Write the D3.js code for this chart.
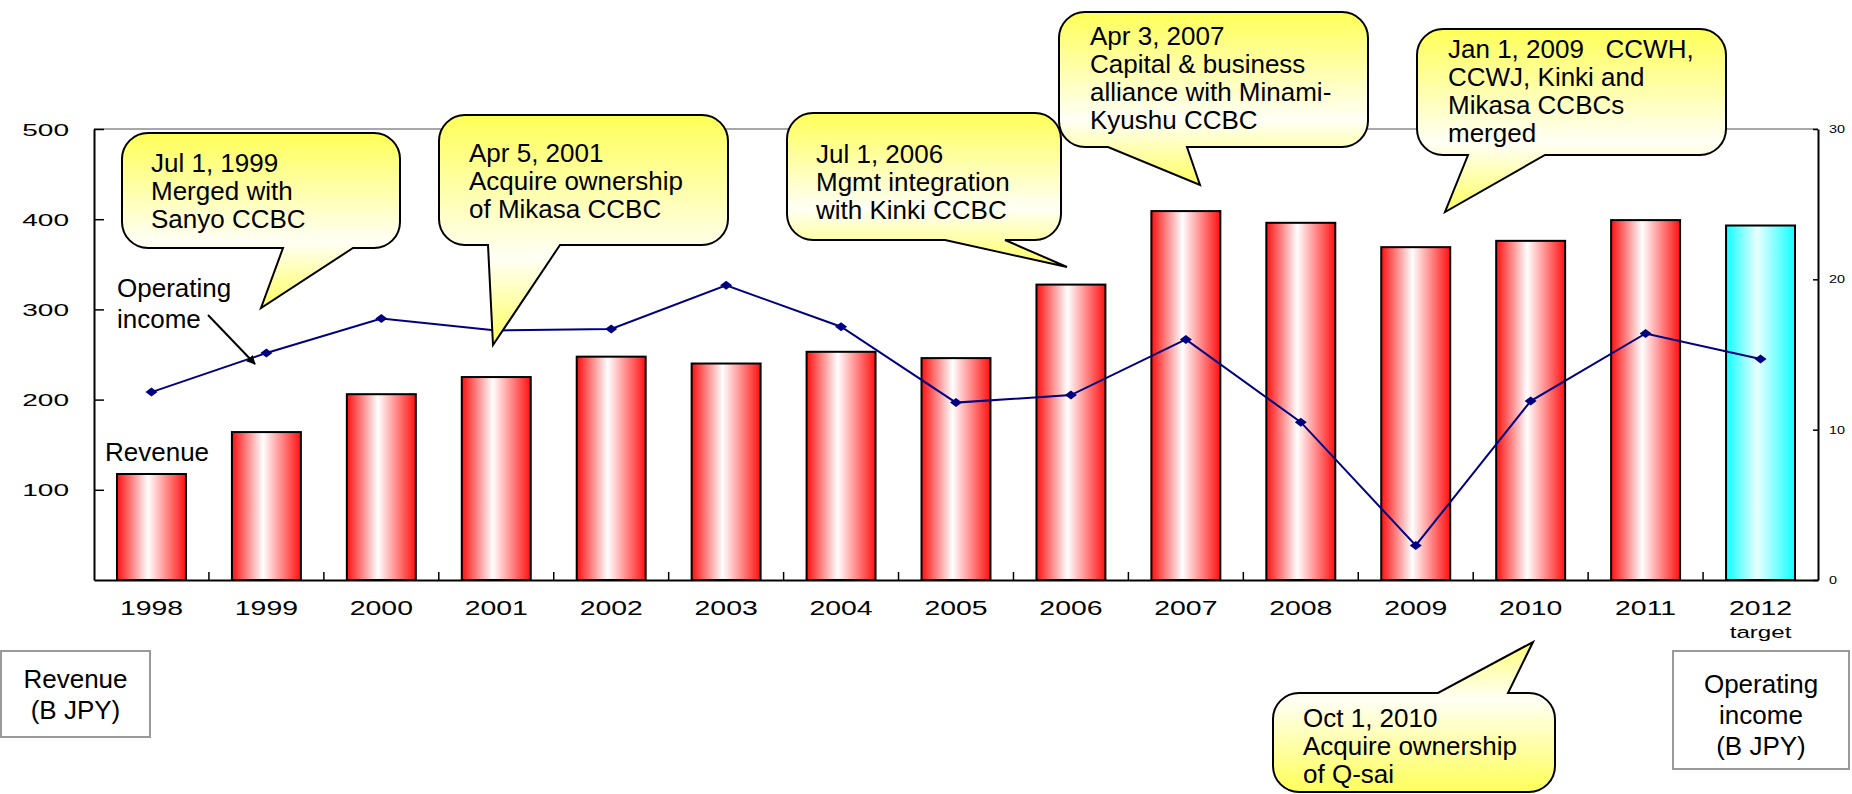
<!DOCTYPE html>
<html>
<head>
<meta charset="utf-8">
<script src="https://cdn.jsdelivr.net/npm/d3@7/dist/d3.min.js"></script>
<style>
  html, body { margin: 0; padding: 0; background: #fff; }
  svg { display: block; font-family: "Liberation Sans", Arial, sans-serif; }
</style>
</head>
<body>
<svg id="chart" width="1852" height="794"></svg>
<script>
'use strict';

// data
let years = ['1998', '1999', '2000', '2001', '2002', '2003', '2004', '2005',
  '2006', '2007', '2008', '2009', '2010', '2011', '2012'];
let revenue = [117.5, 164, 206, 225, 247.6, 240, 253, 246, 327.5, 409, 396, 369, 376, 399, 393];
let opIncome = [12.5, 15.1, 17.4, 16.6, 16.7, 19.6, 16.85, 11.8, 12.3, 16.0, 10.5, 2.3, 11.9, 16.4, 14.7];
let leftTicks = [100, 200, 300, 400, 500];
let rightTicks = [0, 10, 20, 30];
let targetYear = '2012';
let targetNote = 'target';

let calloutTexts = [
  ['Jul 1, 1999', 'Merged with', 'Sanyo CCBC'],
  ['Apr 5, 2001', 'Acquire ownership', 'of Mikasa CCBC'],
  ['Jul 1, 2006', 'Mgmt integration', 'with Kinki CCBC'],
  ['Apr 3, 2007', 'Capital & business', 'alliance with Minami-', 'Kyushu CCBC'],
  ['Jan 1, 2009   CCWH,', 'CCWJ, Kinki and', 'Mikasa CCBCs', 'merged'],
  ['Oct 1, 2010', 'Acquire ownership', 'of Q-sai'],
];
let revenueUnit = ['Revenue', '(B JPY)'];
let incomeUnit = ['Operating', 'income', '(B JPY)'];

// layout
let plotL = 94, plotR = 1818, plotT = 129, plotB = 580;
let calloutLayout = [
  {box: [122, 133, 400, 248], side: 'bottom', base: [283, 353], tip: [261, 308], tx: 151, ty: 172},
  {box: [439, 115, 728, 245], side: 'bottom', base: [488, 560], tip: [493, 345], tx: 469, ty: 162},
  {box: [787, 113, 1061, 240], side: 'bottom', base: [945, 1005], tip: [1067, 267], tx: 816, ty: 163},
  {box: [1059, 12, 1368, 147], side: 'bottom', base: [1108, 1187], tip: [1200, 185], tx: 1090, ty: 45},
  {box: [1417, 29, 1726, 155], side: 'bottom', base: [1468, 1545], tip: [1445, 212], tx: 1448, ty: 58},
  {box: [1273, 693, 1555, 792], side: 'top', base: [1438, 1508], tip: [1533, 642], tx: 1303, ty: 727},
];

let svg = d3.select('#chart');
let defs = svg.append('defs');

let hGrad = (id, edge, mid) => {
  let g = defs.append('linearGradient').attr('id', id)
    .attr('x1', 0).attr('y1', 0).attr('x2', 1).attr('y2', 0);
  g.append('stop').attr('offset', '0%').attr('stop-color', edge);
  g.append('stop').attr('offset', '45%').attr('stop-color', mid);
  g.append('stop').attr('offset', '100%').attr('stop-color', edge);
};
hGrad('redGrad', '#ff1010', '#ffffff');
hGrad('cyanGrad', '#10ffff', '#eaffff');

let vGrad = (id, stops) => {
  let g = defs.append('linearGradient').attr('id', id)
    .attr('x1', 0).attr('y1', 0).attr('x2', 0).attr('y2', 1);
  stops.forEach(s => g.append('stop').attr('offset', s[0]).attr('stop-color', s[1]));
};
vGrad('yelDown', [['0%', '#ffff58'], ['62%', '#fffff6'], ['100%', '#ffff60']]);
vGrad('yelUp', [['0%', '#ffff78'], ['38%', '#fffff6'], ['100%', '#ffff58']]);

defs.append('marker')
  .attr('id', 'arrow')
  .attr('viewBox', '0 0 10 10')
  .attr('refX', 9).attr('refY', 5)
  .attr('markerWidth', 9).attr('markerHeight', 9)
  .attr('markerUnits', 'userSpaceOnUse')
  .attr('orient', 'auto')
  .append('path')
  .attr('d', 'M0,0 L10,5 L0,10 Z')
  .style('fill', 'black');

let x = d3.scaleBand().domain(years).range([plotL, plotR])
  .paddingInner(0.4).paddingOuter(0.2);
let yL = d3.scaleLinear().domain([0, 500]).range([plotB, plotT]);
let yR = d3.scaleLinear().domain([0, 30]).range([plotB, plotT]);

// top frame line
svg.append('line')
  .attr('x1', plotL).attr('x2', plotR).attr('y1', plotT).attr('y2', plotT)
  .style('stroke', '#8a8a8a').style('stroke-width', 1.5);

// bars
svg.append('g').selectAll('rect')
  .data(years)
  .enter().append('rect')
  .attr('x', d => x(d))
  .attr('y', (d, i) => yL(revenue[i]))
  .attr('width', x.bandwidth())
  .attr('height', (d, i) => yL(0) - yL(revenue[i]))
  .style('fill', d => d === targetYear ? 'url(#cyanGrad)' : 'url(#redGrad)')
  .style('stroke', 'black')
  .style('stroke-width', 2);

// axes
let leftAxis = svg.append('g')
  .attr('transform', `translate(${plotL},0)`)
  .call(d3.axisLeft(yL).tickValues(leftTicks).tickSize(-10).tickSizeOuter(0));
leftAxis.selectAll('text')
  .attr('x', 0).attr('dy', '0.36em')
  .attr('transform', 'translate(-25,0) scale(1.65,1)')
  .style('font-size', '17px').style('fill', 'black');

let rightAxis = svg.append('g')
  .attr('transform', `translate(${plotR},0)`)
  .call(d3.axisRight(yR).tickValues(rightTicks).tickSize(-5).tickSizeOuter(0));
rightAxis.selectAll('text')
  .attr('x', 0).attr('dy', '0.36em')
  .attr('transform', 'translate(11,0) scale(1.44,1)')
  .style('font-size', '10px').style('fill', 'black');

let bottomAxis = svg.append('g')
  .attr('transform', `translate(0,${plotB})`)
  .call(d3.axisBottom(x).tickSize(0).tickSizeOuter(0));
bottomAxis.selectAll('text')
  .attr('x', 0).attr('y', 35).attr('dy', 0)
  .attr('transform', 'scale(1.42,1)')
  .style('font-size', '20px').style('fill', 'black');
bottomAxis.selectAll('.tick')
  .filter(d => d === targetYear)
  .append('text')
  .attr('x', 0).attr('y', 58)
  .attr('transform', 'scale(1.42,1)')
  .style('font-size', '17px').style('fill', 'black')
  .text(targetNote);

[leftAxis, rightAxis, bottomAxis].forEach(a => {
  a.select('.domain').style('stroke', 'black').style('stroke-width', 2);
  a.selectAll('.tick line').style('stroke', 'black').style('stroke-width', 1.5);
});

// category divider ticks on the bottom axis
svg.append('g').selectAll('line')
  .data(years.slice(1))
  .enter().append('line')
  .attr('x1', d => x(d) - x.step() * x.paddingInner() / 2)
  .attr('x2', d => x(d) - x.step() * x.paddingInner() / 2)
  .attr('y1', plotB).attr('y2', plotB - 8)
  .style('stroke', 'black').style('stroke-width', 1.5);

// operating income line
let cx = d => x(d) + x.bandwidth() / 2;
let line = d3.line()
  .x(d => cx(d))
  .y((d, i) => yR(opIncome[i]));
svg.append('path')
  .datum(years)
  .attr('d', line)
  .style('fill', 'none')
  .style('stroke', '#000080')
  .style('stroke-width', 2);
svg.append('g').selectAll('path')
  .data(years)
  .enter().append('path')
  .attr('transform', (d, i) => `translate(${cx(d)},${yR(opIncome[i])})`)
  .attr('d', 'M-6,0 L0,-4.5 L6,0 L0,4.5 Z')
  .style('fill', '#000080');

// series labels
let label = (lines, px, py, anchor) => {
  let t = svg.append('text')
    .attr('x', px).attr('y', py)
    .style('font-size', '26px')
    .style('text-anchor', anchor || 'start');
  lines.forEach((s, i) => {
    t.append('tspan').attr('x', px).attr('y', py + i * 31).text(s);
  });
  return t;
};
label(['Revenue'], 105, 461);
label(['Operating', 'income'], 117, 297);
svg.append('line')
  .attr('x1', 208).attr('y1', 315).attr('x2', 255).attr('y2', 364)
  .style('stroke', 'black').style('stroke-width', 2)
  .attr('marker-end', 'url(#arrow)');

// callouts
let calloutPath = c => {
  let [x0, y0, x1, y1] = c.box;
  let r = 26;
  let [b1, b2] = c.base;
  let [tx, ty] = c.tip;
  let p = `M${x0 + r},${y0}`;
  if (c.side === 'top') p += ` H${b1} L${tx},${ty} L${b2},${y0}`;
  p += ` H${x1 - r} A${r},${r} 0 0 1 ${x1},${y0 + r} V${y1 - r} A${r},${r} 0 0 1 ${x1 - r},${y1}`;
  if (c.side === 'bottom') p += ` H${b2} L${tx},${ty} L${b1},${y1}`;
  p += ` H${x0 + r} A${r},${r} 0 0 1 ${x0},${y1 - r} V${y0 + r} A${r},${r} 0 0 1 ${x0 + r},${y0} Z`;
  return p;
};

let calloutG = svg.append('g');
calloutLayout.forEach((c, i) => {
  let g = calloutG.append('g');
  g.append('path')
    .attr('d', calloutPath(c))
    .style('fill', c.side === 'top' ? 'url(#yelUp)' : 'url(#yelDown)')
    .style('stroke', 'black')
    .style('stroke-width', 2);
  let t = g.append('text')
    .style('font-size', '26px')
    .style('white-space', 'pre');
  calloutTexts[i].forEach((s, j) => {
    t.append('tspan').attr('x', c.tx).attr('y', c.ty + j * 28).text(s);
  });
});

// unit boxes
let unitBox = (lines, bx, by, bw, bh, ty) => {
  svg.append('rect')
    .attr('x', bx).attr('y', by).attr('width', bw).attr('height', bh)
    .style('fill', 'white').style('stroke', '#9a9a9a').style('stroke-width', 2);
  label(lines, bx + bw / 2, ty, 'middle');
};
unitBox(revenueUnit, 1, 651, 149, 86, 688);
unitBox(incomeUnit, 1673, 651, 176, 118, 693);
</script>
</body>
</html>
